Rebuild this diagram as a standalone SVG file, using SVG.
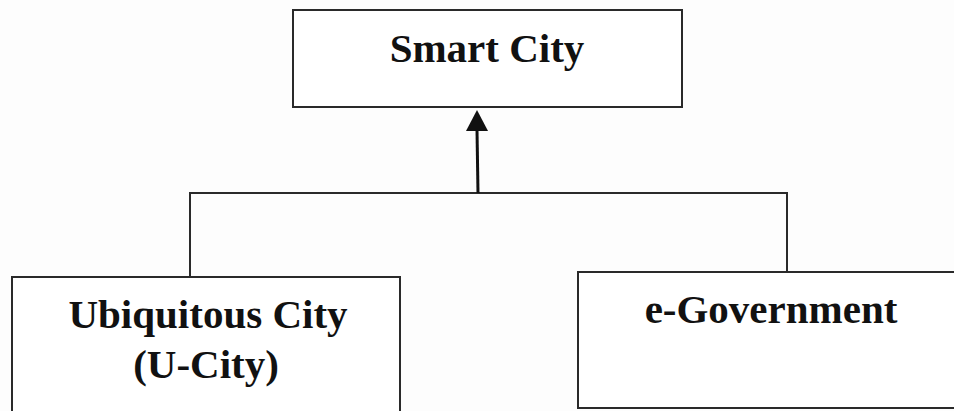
<svg xmlns="http://www.w3.org/2000/svg" width="954" height="411" viewBox="0 0 954 411">
  <style>
    .box { fill: #ffffff; stroke: #2a2a2a; stroke-width: 2; }
    .lbl { font-family: "Liberation Serif", "Times New Roman", serif; font-weight: bold; font-size: 41px; fill: #111; text-anchor: middle; }
    .wire { fill: none; stroke: #2a2a2a; stroke-width: 2; }
  </style>
  <rect width="954" height="411" fill="#fdfdfd"/>

  <g id="connectors">
    <path class="wire" d="M190,276 V193 H787 V272"/>
    <line x1="478" y1="193" x2="477" y2="130" stroke="#111" stroke-width="3"/>
    <polygon points="477,110 466,131 488,131" fill="#111"/>
  </g>

  <g id="smart-city">
    <rect class="box" x="293" y="10" width="389" height="97"/>
    <text class="lbl" x="487" y="62">Smart City</text>
  </g>

  <g id="u-city">
    <rect class="box" x="12" y="277" width="388" height="140"/>
    <text class="lbl" x="208" y="328">Ubiquitous City</text>
    <text class="lbl" x="206" y="378">(U-City)</text>
  </g>

  <g id="e-government">
    <rect class="box" x="578" y="272" width="390" height="136"/>
    <text class="lbl" x="771" y="323">e-Government</text>
  </g>
</svg>
